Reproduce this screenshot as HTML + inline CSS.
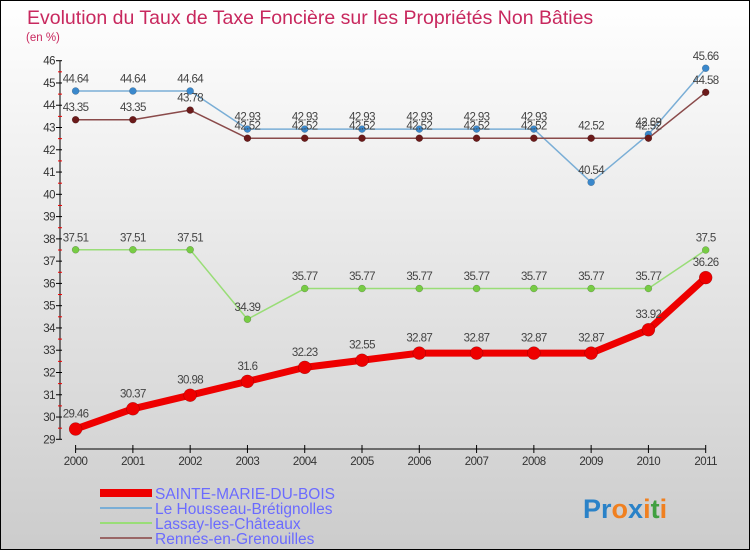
<!DOCTYPE html>
<html><head><meta charset="utf-8"><style>
body{margin:0}
#c{width:750px;height:550px;position:relative;overflow:hidden;font-family:"Liberation Sans",sans-serif}
</style></head><body>
<div id="c">
<svg id="s" width="750" height="550" xmlns="http://www.w3.org/2000/svg" font-family="Liberation Sans, sans-serif">
<defs><linearGradient id="bg" x1="0" y1="0" x2="0" y2="1"><stop offset="0" stop-color="#ffffff"/><stop offset="1" stop-color="#cccccc"/></linearGradient></defs>
<rect x="0.5" y="0.5" width="749" height="549" fill="url(#bg)" stroke="#000"/>
<text x="27" y="24" font-size="19.5" fill="#c8285e">Evolution du Taux de Taxe Foncière sur les Propriétés Non Bâties</text>
<text x="26" y="41" font-size="11.5" fill="#c8285e">(en %)</text>
<g id="axes"></g><g id="series"></g>
<g>
<line x1="100" y1="493" x2="152" y2="493" stroke="#ee0000" stroke-width="8"/>
<text x="155" y="499" font-size="15.5" fill="#6b6bff">SAINTE-MARIE-DU-BOIS</text>
<line x1="100" y1="508" x2="152" y2="508" stroke="#7aaed6" stroke-width="2"/>
<text x="155" y="514" font-size="15.5" fill="#6b6bff">Le Housseau-Brétignolles</text>
<line x1="100" y1="523" x2="152" y2="523" stroke="#99dd77" stroke-width="2"/>
<text x="155" y="529" font-size="15.5" fill="#6b6bff">Lassay-les-Châteaux</text>
<line x1="100" y1="538" x2="152" y2="538" stroke="#996666" stroke-width="2"/>
<text x="155" y="544" font-size="15.5" fill="#6b6bff">Rennes-en-Grenouilles</text>
</g>
<text x="583" y="518" font-size="27" font-weight="bold"><tspan fill="#2a82c8">Pr</tspan><tspan fill="#f08020">o</tspan><tspan fill="#2a82c8">x</tspan><tspan fill="#f08020">i</tspan><tspan fill="#40a040">t</tspan><tspan fill="#f08020">i</tspan></text>
</svg>
</div>
<script>
const years=["2000","2001","2002","2003","2004","2005","2006","2007","2008","2009","2010","2011"];
const yTicks=[29,30,31,32,33,34,35,36,37,38,39,40,41,42,43,44,45,46];
const sainteMarie=[29.46,30.37,30.98,31.6,32.23,32.55,32.87,32.87,32.87,32.87,33.92,36.26];
const housseau=[44.64,44.64,44.64,42.93,42.93,42.93,42.93,42.93,42.93,40.54,42.69,45.66];
const lassay=[37.51,37.51,37.51,34.39,35.77,35.77,35.77,35.77,35.77,35.77,35.77,37.5];
const rennes=[43.35,43.35,43.78,42.52,42.52,42.52,42.52,42.52,42.52,42.52,42.52,44.58];
const NS="http://www.w3.org/2000/svg";
function xS(i){return 75.6+i*(705.7-75.6)/(years.length-1);}
function yS(v){return 439.3-(v-29)*(439.3-60.7)/17;}
function mk(t,a,p){const e=document.createElementNS(NS,t);for(const k in a)e.setAttribute(k,a[k]);p.appendChild(e);return e;}
const ax=document.getElementById('axes');
let l=mk('line',{x1:60,y1:yS(46),x2:60,y2:yS(29),stroke:'#000'},ax);


yTicks.forEach(v=>{
  const t=mk('line',{x1:56,y1:yS(v),x2:62,y2:yS(v),stroke:'#000'},ax);
  
  
  if(v<46){const m=mk('line',{x1:58,y1:yS(v+0.5),x2:62,y2:yS(v+0.5),stroke:'#e00'},ax);
  
  }
  const tx=mk('text',{x:55,y:yS(v)+4,'font-size':11.5,'text-anchor':'end',fill:'#333','letter-spacing':'-0.5'},ax);
  tx.textContent=v;
  
  
});
l=mk('line',{x1:xS(0),y1:449,x2:xS(11),y2:449,stroke:'#000'},ax);


years.forEach((y,i)=>{
  const t=mk('line',{x1:xS(i),y1:445,x2:xS(i),y2:453,stroke:'#000'},ax);
  
  
  const tx=mk('text',{x:xS(i),y:465,'font-size':11.5,'text-anchor':'middle',fill:'#333','letter-spacing':'-0.5'},ax);
  tx.textContent=y;
  
  
});
const sg=document.getElementById('series');
function draw(vals,name,color,dot,w,r,fs){
  const g=mk('g',{},sg);
  
  
  const p=mk('polyline',{points:vals.map((v,i)=>xS(i)+','+yS(v)).join(' '),fill:'none',stroke:color,'stroke-width':w,'stroke-linejoin':'round'},g);
  
  
  vals.forEach((v,i)=>{
    const c=mk('circle',{cx:xS(i),cy:yS(v),r:r,fill:dot,stroke:'rgba(0,0,0,0.3)','stroke-width':0.5},g);
    
    
    const t=mk('text',{x:xS(i),y:yS(v)-(r+5),'font-size':fs,'text-anchor':'middle',fill:'#444','letter-spacing':'-0.6'},g);
    t.textContent=String(v);
    
    
  });
}
draw(housseau,'housseau','#7aaed6','#3a88cc',1.5,3.5,11.5);
draw(rennes,'rennes','#8a4a4a','#6b1a1a',1.5,3.5,11.5);
draw(lassay,'lassay','#99dd77','#77cc44',1.5,3.5,11.5);
draw(sainteMarie,'sainte-marie','#ee0000','#ee0000',7,6.5,11.5);
</script>
</body></html>
